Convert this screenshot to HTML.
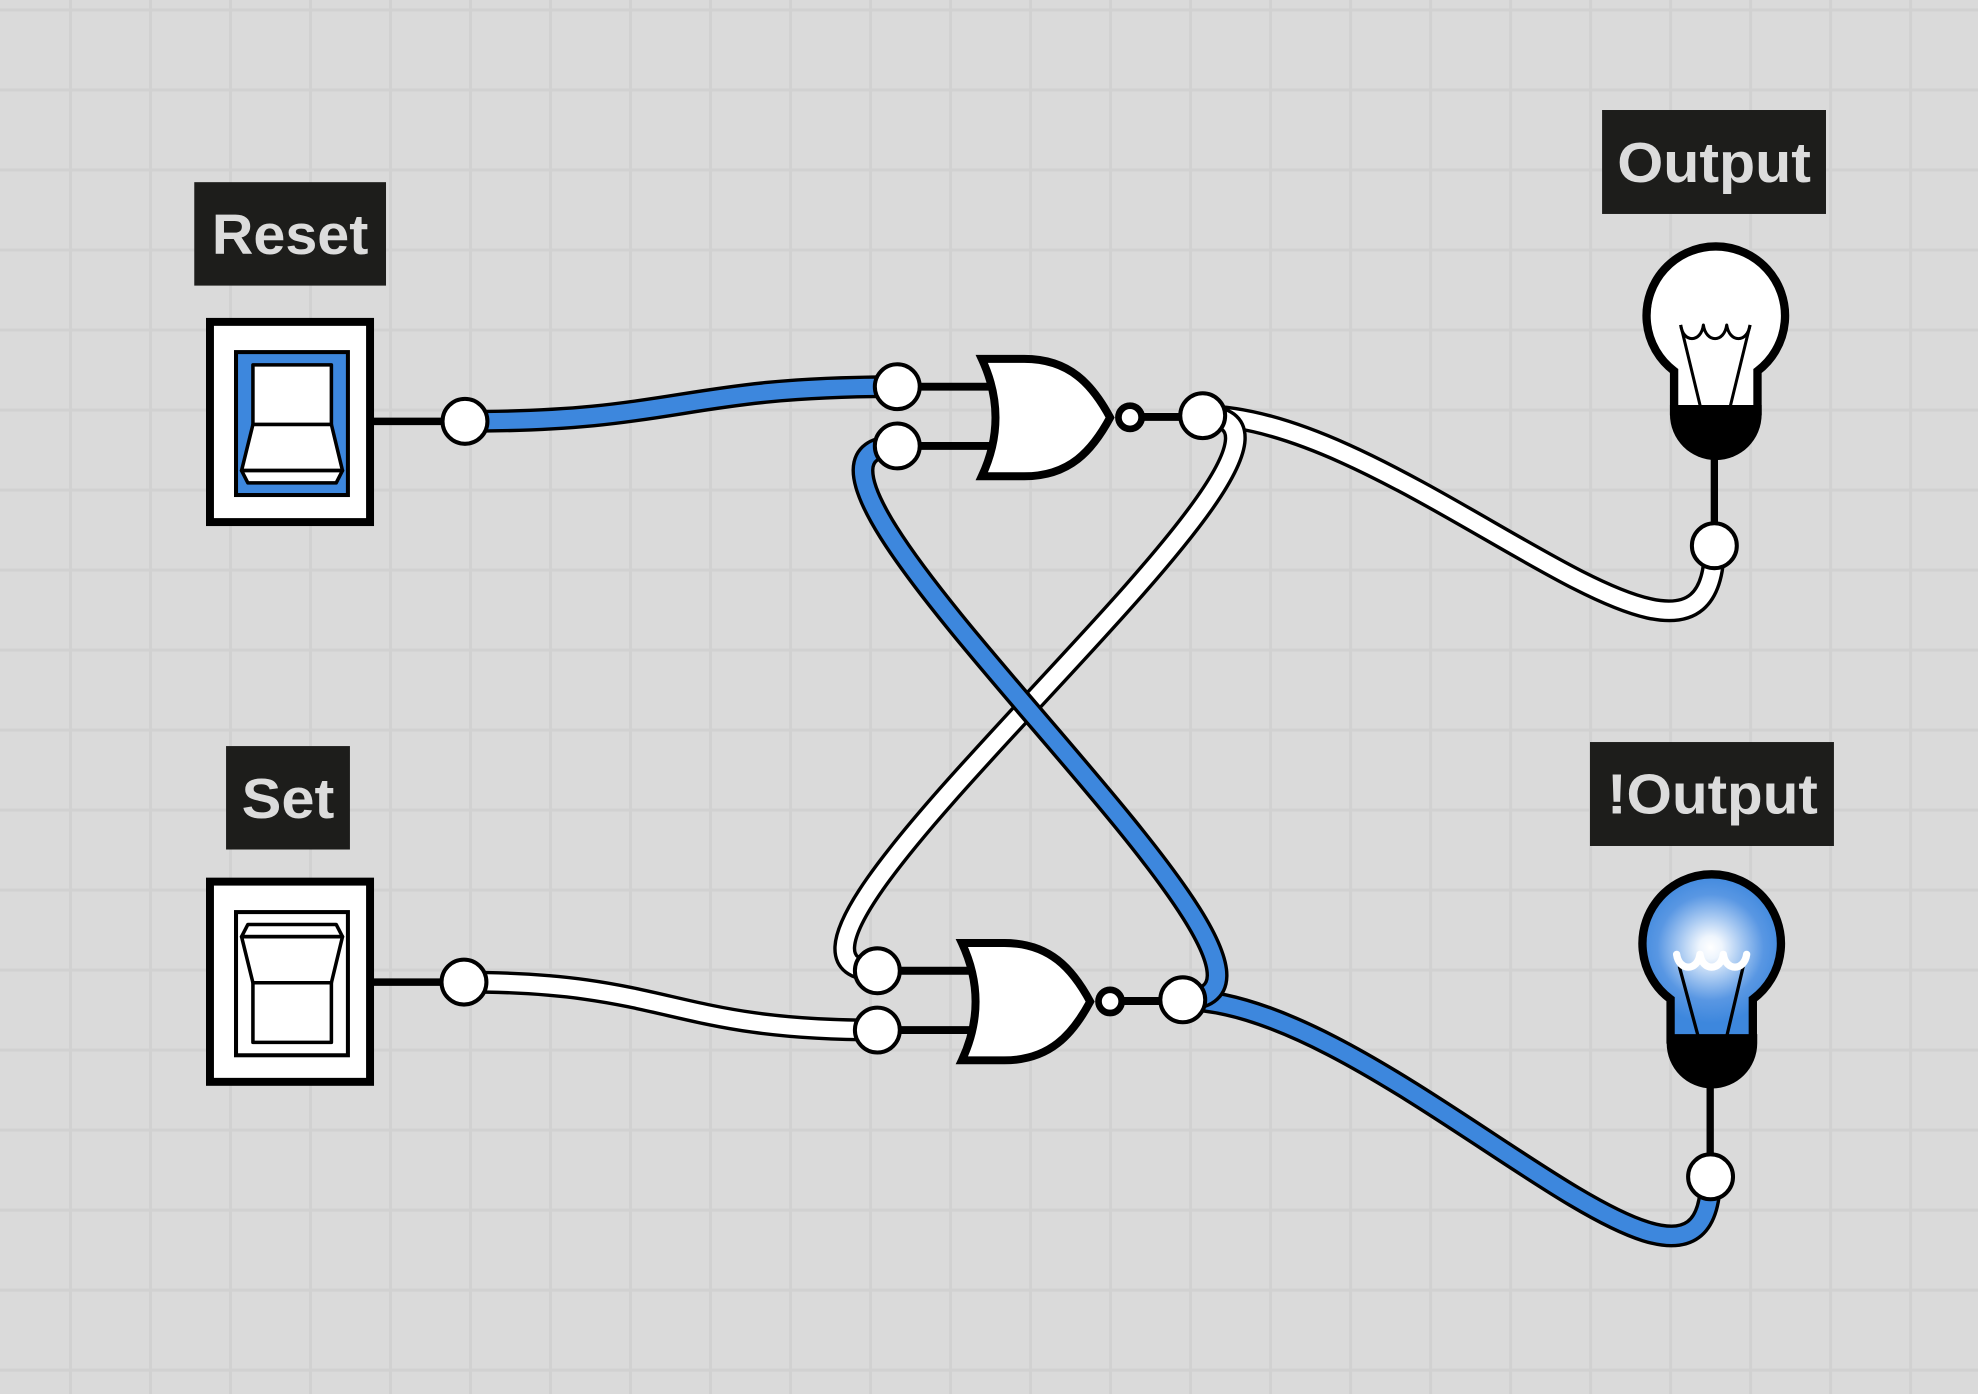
<!DOCTYPE html>
<html>
<head>
<meta charset="utf-8">
<style>
html,body{margin:0;padding:0;background:#dadada;overflow:hidden;}
svg{display:block;}
</style>
</head>
<body>
<svg xmlns="http://www.w3.org/2000/svg" width="1978" height="1394" viewBox="0 0 1568 1105" preserveAspectRatio="none">
<defs>
<pattern id="grid" width="63.42" height="63.42" patternUnits="userSpaceOnUse" x="54.7" y="6.7">
<rect width="63.42" height="63.42" fill="#dadada"/>
<rect x="0" y="0" width="2.4" height="63.42" fill="#d1d1d1"/>
<rect x="0" y="0" width="63.42" height="2.4" fill="#d1d1d1"/>
</pattern>
<radialGradient id="glow" gradientUnits="userSpaceOnUse" cx="1356" cy="751" r="60">
<stop offset="0" stop-color="#ffffff"/>
<stop offset="0.15" stop-color="#eef5fd"/>
<stop offset="0.4" stop-color="#a9caf2"/>
<stop offset="0.7" stop-color="#5997e3"/>
<stop offset="1" stop-color="#3d87dd"/>
</radialGradient>
</defs>

<rect x="0" y="0" width="1568" height="1105" fill="url(#grid)"/>

<!-- Labels -->
<rect x="154" y="144.4" width="152" height="82" fill="#1d1d1b"/>
<text x="230" y="201.4" font-family="Liberation Sans, Arial, sans-serif" font-weight="bold" font-size="45" fill="#dcdcdc" text-anchor="middle" textLength="124" lengthAdjust="spacingAndGlyphs">Reset</text>

<rect x="179.2" y="591.4" width="98.2" height="82" fill="#1d1d1b"/>
<text x="228.3" y="648.5" font-family="Liberation Sans, Arial, sans-serif" font-weight="bold" font-size="45" fill="#dcdcdc" text-anchor="middle" textLength="73.5" lengthAdjust="spacingAndGlyphs">Set</text>

<rect x="1270" y="87.2" width="177.5" height="82.4" fill="#1d1d1b"/>
<text x="1358.8" y="144.2" font-family="Liberation Sans, Arial, sans-serif" font-weight="bold" font-size="45" fill="#dcdcdc" text-anchor="middle" textLength="153.5" lengthAdjust="spacingAndGlyphs">Output</text>

<rect x="1260.4" y="588.2" width="193.4" height="82.4" fill="#1d1d1b"/>
<text x="1357.5" y="645" font-family="Liberation Sans, Arial, sans-serif" font-weight="bold" font-size="45" fill="#dcdcdc" text-anchor="middle" textLength="167" lengthAdjust="spacingAndGlyphs">!Output</text>

<!-- Reset switch -->
<rect x="166.45" y="255.15" width="126.9" height="158.7" fill="#ffffff" stroke="#000" stroke-width="6.3"/>
<rect x="187.1" y="279.1" width="88.7" height="113.3" fill="#3d87dd" stroke="#000" stroke-width="3.2"/>
<g fill="#ffffff" stroke="#000" stroke-width="2.8" stroke-linejoin="round">
<rect x="200.5" y="289.2" width="62.2" height="47.3"/>
<path d="M200.5,336.5 L262.7,336.5 L271.5,373 L191.5,373 Z"/>
<path d="M191.5,373 L271.5,373 L266.5,382.8 L196.5,382.8 Z"/>
</g>

<!-- Set switch -->
<rect x="166.45" y="698.85" width="126.9" height="158.7" fill="#ffffff" stroke="#000" stroke-width="6.3"/>
<rect x="187.1" y="723" width="88.7" height="113.5" fill="#ffffff" stroke="#000" stroke-width="3.2"/>
<g fill="#ffffff" stroke="#000" stroke-width="2.8" stroke-linejoin="round">
<path d="M196.5,732.8 L266.5,732.8 L271.5,742.5 L191.5,742.5 Z"/>
<path d="M191.5,742.5 L271.5,742.5 L262.7,779 L200.5,779 Z"/>
<rect x="200.5" y="779" width="62.2" height="47.3"/>
</g>

<!-- switch leads -->
<g stroke="#000" stroke-width="6" fill="none">
<path d="M296,334 H368"/>
<path d="M296,778.5 H368"/>
</g>

<!-- Wires -->
<g fill="none" stroke-linecap="butt">
<path d="M368.6,334 C540,334 540,306.5 711.3,306.5" stroke="#000" stroke-width="18.2"/>
<path d="M368.6,334 C540,334 540,306.5 711.3,306.5" stroke="#3d87dd" stroke-width="12.8"/>
<path d="M367.8,778.5 C531,778.5 531,816.5 695.5,816.5" stroke="#000" stroke-width="18.2"/>
<path d="M367.8,778.5 C531,778.5 531,816.5 695.5,816.5" stroke="#ffffff" stroke-width="12.8"/>
<path d="M953.4,329.5 C1113.4,329.5 1359,592.6 1359,432.6" stroke="#000" stroke-width="18.2"/>
<path d="M953.4,329.5 C1113.4,329.5 1359,592.6 1359,432.6" stroke="#ffffff" stroke-width="12.8"/>
<path d="M953.4,329.5 C1103.4,329.5 545.5,769.5 695.5,769.5" stroke="#000" stroke-width="18.2"/>
<path d="M953.4,329.5 C1103.4,329.5 545.5,769.5 695.5,769.5" stroke="#ffffff" stroke-width="12.8"/>
<path d="M937.6,792.5 C1097.6,792.5 1356,1092.8 1356,932.8" stroke="#000" stroke-width="18.2"/>
<path d="M937.6,792.5 C1097.6,792.5 1356,1092.8 1356,932.8" stroke="#3d87dd" stroke-width="12.8"/>
<path d="M937.6,792.5 C1087.6,792.5 561.3,353.5 711.3,353.5" stroke="#000" stroke-width="18.2"/>
<path d="M937.6,792.5 C1087.6,792.5 561.3,353.5 711.3,353.5" stroke="#3d87dd" stroke-width="12.8"/>
</g>

<!-- Upper NOR gate -->
<g>
<g stroke="#000" stroke-width="6.3" fill="none">
<path d="M711,306.5 H795"/>
<path d="M711,353.5 H795"/>
<path d="M895,330.5 H953"/>
</g>
<path d="M778.3,284.5 H812 C848,284.5 866,305 880,331 C866,357 848,377.5 812,377.5 H778.3 Q800,331 778.3,284.5 Z" fill="#ffffff" stroke="#000" stroke-width="6.3" stroke-linejoin="miter" stroke-miterlimit="10"/>
<circle cx="895.8" cy="330.8" r="9.2" fill="#ffffff" stroke="#000" stroke-width="5.3"/>
</g>

<!-- Lower NOR gate -->
<g transform="translate(-15.8,463)">
<g stroke="#000" stroke-width="6.3" fill="none">
<path d="M711,306.5 H795"/>
<path d="M711,353.5 H795"/>
<path d="M895,330.5 H953"/>
</g>
<path d="M778.3,284.5 H812 C848,284.5 866,305 880,331 C866,357 848,377.5 812,377.5 H778.3 Q800,331 778.3,284.5 Z" fill="#ffffff" stroke="#000" stroke-width="6.3" stroke-linejoin="miter" stroke-miterlimit="10"/>
<circle cx="895.8" cy="330.8" r="9.2" fill="#ffffff" stroke="#000" stroke-width="5.3"/>
</g>

<!-- Output bulb (off) -->
<path d="M1359,362 V432.6" stroke="#000" stroke-width="5.8"/>
<path d="M1327.1,326 V294.1 A54.9,54.9 0 1 1 1393.2,294.1 V326 Z" fill="#ffffff" stroke="#000" stroke-width="6.6"/>
<g fill="none" stroke="#000" stroke-width="2.4" stroke-linejoin="round">
<path d="M1332.3,257.6 C1334,272 1348.5,272 1350.3,257.6 C1352.3,272 1366.8,272 1368.8,257.6 C1370.8,272 1385.3,272 1387.3,257.6"/>
<path d="M1332.3,257.6 L1348.1,323 M1387.3,257.6 L1371.4,323"/>
</g>
<path d="M1323.8,321 H1396.5 V328.4 A36.35,36.35 0 0 1 1323.8,328.4 Z" fill="#000"/>

<!-- !Output bulb (on) -->
<path d="M1355.7,860 V932.8" stroke="#000" stroke-width="5.8"/>
<path d="M1324.3,824 V792.1 A54.9,54.9 0 1 1 1389.5,792.1 V824 Z" fill="url(#glow)" stroke="#000" stroke-width="6.6"/>
<g fill="none" stroke="#000" stroke-width="2.6">
<path d="M1331.2,766 L1346.3,822 M1381.9,766 L1368.7,822"/>
</g>
<path d="M1329.1,756.5 C1331,770 1345.7,770 1347.6,756.5 C1349.5,770 1364.2,770 1366.1,756.5 C1368,770 1382.7,770 1384.6,756.5" fill="none" stroke="#ffffff" stroke-width="5.8" stroke-linecap="round" stroke-linejoin="round"/>
<path d="M1321.2,819.7 H1393 V826.9 A35.9,35.9 0 0 1 1321.2,826.9 Z" fill="#000"/>

<!-- Connector circles -->
<g fill="#ffffff" stroke="#000" stroke-width="3.2">
<circle cx="368.6" cy="334" r="17.8"/>
<circle cx="367.8" cy="778.5" r="17.8"/>
<circle cx="711.3" cy="306.5" r="17.8"/>
<circle cx="711.3" cy="353.5" r="17.8"/>
<circle cx="695.5" cy="769.5" r="17.8"/>
<circle cx="695.5" cy="816.5" r="17.8"/>
<circle cx="953.4" cy="329.5" r="17.8"/>
<circle cx="937.6" cy="792.5" r="17.8"/>
<circle cx="1359" cy="432.6" r="17.8"/>
<circle cx="1356" cy="932.8" r="17.8"/>
</g>
</svg>
</body>
</html>
